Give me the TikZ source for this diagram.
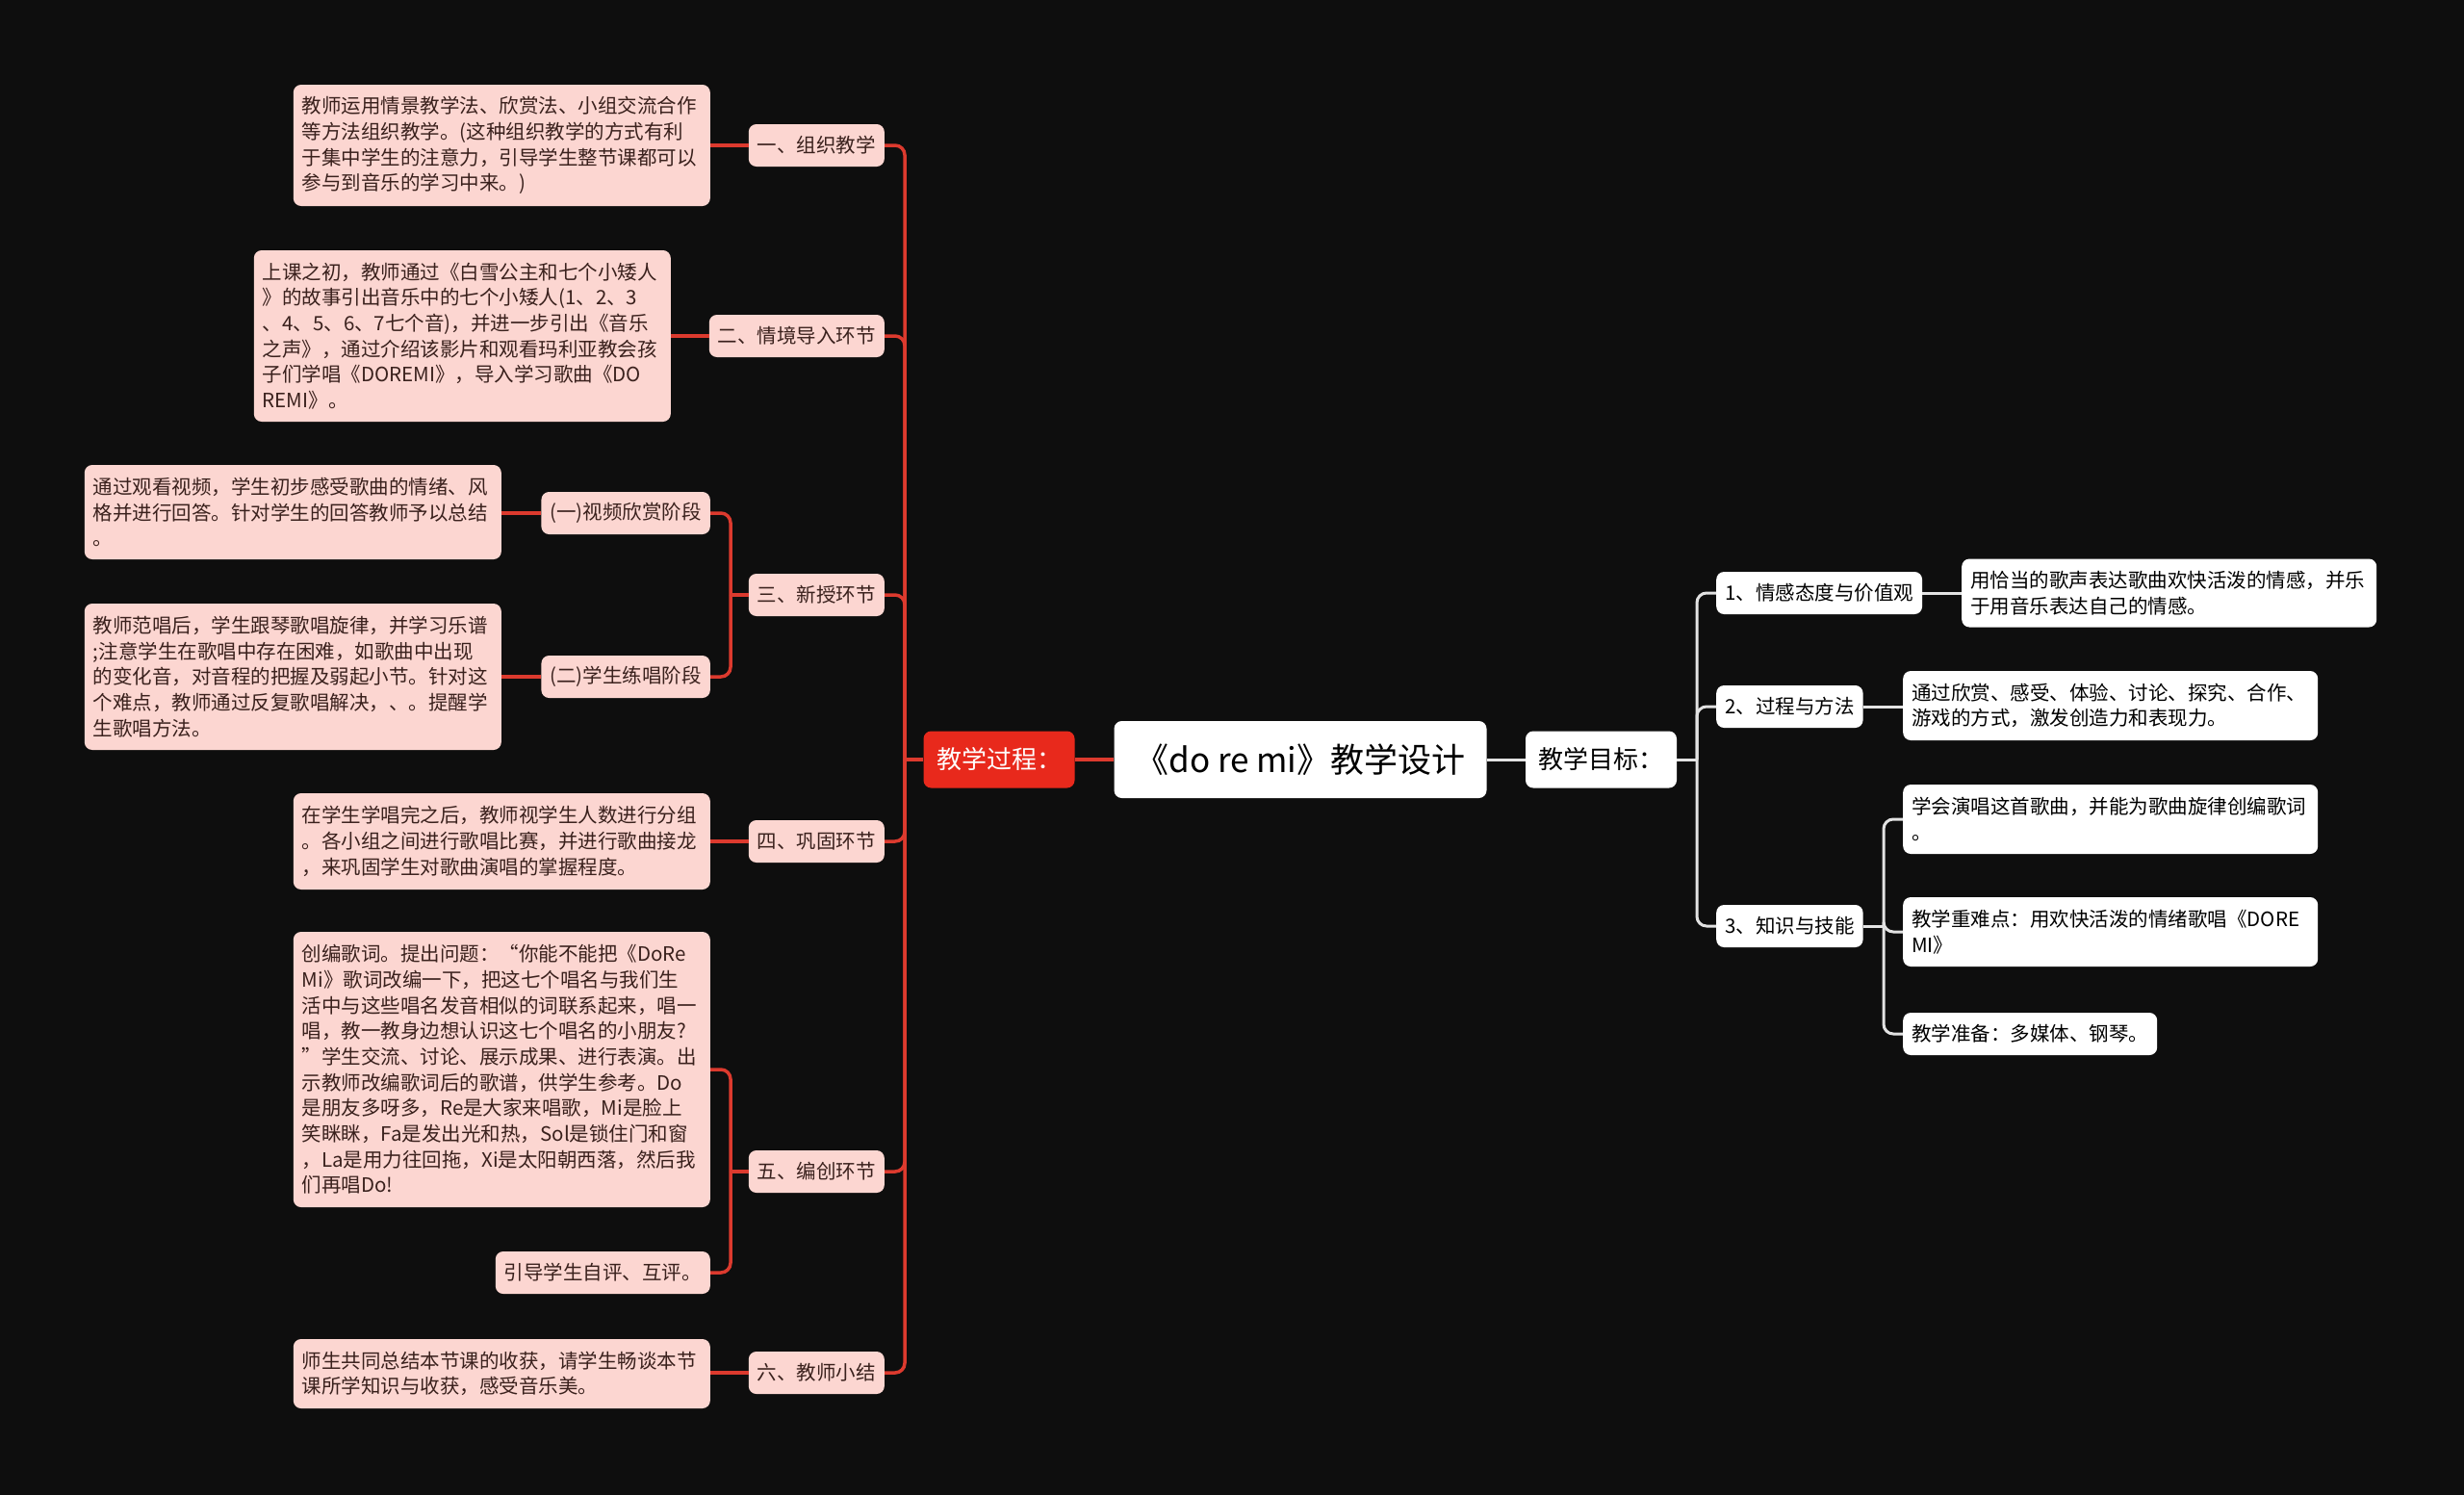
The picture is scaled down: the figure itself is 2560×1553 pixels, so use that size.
\documentclass[tikz,border=0pt]{standalone}
\usepackage{fontspec}
\setmainfont{Noto Sans CJK SC}
\definecolor{bgc}{HTML}{0E0E0E}
\definecolor{pinkc}{HTML}{FCD6D1}
\definecolor{ptxt}{HTML}{3A211D}
\definecolor{redl}{HTML}{DC3A2E}
\definecolor{redn}{HTML}{E8291C}
\definecolor{whl}{HTML}{E2E2E2}
\newcommand{\fsn}{\fontsize{20.5pt}{26.67pt}\selectfont}
\tikzset{
  pnode/.style={fill=pinkc, text=ptxt, rounded corners=8pt, inner xsep=9pt, inner ysep=0pt, minimum height=44pt, font=\fsn},
  pleaf/.style={fill=pinkc, text=ptxt, rounded corners=8pt, inner xsep=9pt, inner ysep=3pt, align=left, text width=415pt, font=\fsn},
  wnode/.style={fill=white, text=black, rounded corners=8pt, inner xsep=9pt, inner ysep=0pt, minimum height=44pt, font=\fsn},
  wleaf/.style={fill=white, text=black, rounded corners=8pt, inner xsep=9pt, inner ysep=3pt, align=left, text width=413pt, font=\fsn},
  redline/.style={draw=redl, line width=3.5pt},
  whline/.style={draw=whl, line width=3pt},
}
\begin{document}
\begin{tikzpicture}[x=1pt,y=-1pt]
\fill[bgc] (0,0) rectangle (2560,1553);
\useasboundingbox (0,0) rectangle (2560,1553);

% central
\node[fill=white, text=black, rounded corners=8pt, minimum width=387pt, minimum height=80pt, inner sep=0pt, font=\fontsize{35pt}{40pt}\selectfont] (title) at (1351,789) {《do re mi》教学设计};
\node[fill=redn, text=white, rounded corners=8pt, minimum width=157pt, minimum height=59pt, inner sep=0pt, font=\fontsize{26pt}{30pt}\selectfont] (proc) at (1038,789) {教学过程：};
\node[fill=white, text=black, rounded corners=8pt, minimum width=157pt, minimum height=59pt, inner sep=0pt, font=\fontsize{26pt}{30pt}\selectfont] (goal) at (1663.5,789) {教学目标：};

% left mid nodes
\node[pnode, anchor=east] (n1) at (919,151) {一、组织教学};
\node[pnode, anchor=east] (n2) at (919,349) {二、情境导入环节};
\node[pnode, anchor=east] (n3) at (919,618) {三、新授环节};
\node[pnode, anchor=east] (n4) at (919,874) {四、巩固环节};
\node[pnode, anchor=east] (n5) at (919,1217) {五、编创环节};
\node[pnode, anchor=east] (n6) at (919,1426) {六、教师小结};

\node[pnode, anchor=east] (s1) at (738,533) {(一)视频欣赏阶段};
\node[pnode, anchor=east] (s2) at (738,703) {(二)学生练唱阶段};

% left leaves
\node[pleaf, anchor=east, minimum height=126pt] (l1) at (738,151) {教师运用情景教学法、欣赏法、小组交流合作\\等方法组织教学。(这种组织教学的方式有利\\于集中学生的注意力，引导学生整节课都可以\\参与到音乐的学习中来。)};
\node[pleaf, anchor=east, minimum height=178pt] (l2) at (697,349) {上课之初，教师通过《白雪公主和七个小矮人\\》的故事引出音乐中的七个小矮人(1、2、3\\、4、5、6、7七个音)，并进一步引出《音乐\\之声》，通过介绍该影片和观看玛利亚教会孩\\子们学唱《DOREMI》，导入学习歌曲《DO\\REMI》。};
\node[pleaf, anchor=east, minimum height=98pt] (l3a) at (521,532) {通过观看视频，学生初步感受歌曲的情绪、风\\格并进行回答。针对学生的回答教师予以总结\\。};
\node[pleaf, anchor=east, minimum height=152pt] (l3b) at (521,703) {教师范唱后，学生跟琴歌唱旋律，并学习乐谱\\;注意学生在歌唱中存在困难，如歌曲中出现\\的变化音，对音程的把握及弱起小节。针对这\\个难点，教师通过反复歌唱解决，、。提醒学\\生歌唱方法。};
\node[pleaf, anchor=east, minimum height=100pt] (l4) at (738,874) {在学生学唱完之后，教师视学生人数进行分组\\。各小组之间进行歌唱比赛，并进行歌曲接龙\\，来巩固学生对歌曲演唱的掌握程度。};
\node[pleaf, anchor=east, minimum height=286pt] (l5a) at (738,1111) {创编歌词。提出问题：“你能不能把《DoRe\\Mi》歌词改编一下，把这七个唱名与我们生\\活中与这些唱名发音相似的词联系起来，唱一\\唱，教一教身边想认识这七个唱名的小朋友?\\”学生交流、讨论、展示成果、进行表演。出\\示教师改编歌词后的歌谱，供学生参考。Do\\是朋友多呀多，Re是大家来唱歌，Mi是脸上\\笑眯眯，Fa是发出光和热，Sol是锁住门和窗\\，La是用力往回拖，Xi是太阳朝西落，然后我\\们再唱Do!};
\node[pnode, anchor=east] (l5b) at (738,1322) {引导学生自评、互评。};
\node[pleaf, anchor=east, minimum height=72pt] (l6) at (738,1427) {师生共同总结本节课的收获，请学生畅谈本节\\课所学知识与收获，感受音乐美。};

% right
\node[wnode, anchor=west] (g1) at (1783,616) {1、情感态度与价值观};
\node[wnode, anchor=west] (g2) at (1783,734) {2、过程与方法};
\node[wnode, anchor=west] (g3) at (1783,962) {3、知识与技能};
\node[wleaf, anchor=west, minimum height=71pt] (r1) at (2038,616) {用恰当的歌声表达歌曲欢快活泼的情感，并乐\\于用音乐表达自己的情感。};
\node[wleaf, anchor=west, minimum height=72pt] (r2) at (1977,733) {通过欣赏、感受、体验、讨论、探究、合作、\\游戏的方式，激发创造力和表现力。};
\node[wleaf, anchor=west, minimum height=72pt] (r3a) at (1977,851) {学会演唱这首歌曲，并能为歌曲旋律创编歌词\\。};
\node[wleaf, anchor=west, minimum height=72pt] (r3b) at (1977,968) {教学重难点：用欢快活泼的情绪歌唱《DORE\\MI》};
\node[wnode, anchor=west] (r3c) at (1977,1074) {教学准备：多媒体、钢琴。};

% connectors left
\coordinate (jL) at (940,789);
\draw[redline] (title.west) -- (proc.east);
\draw[redline] (proc.west) -- (jL);
\foreach \n in {n1,n2,n3,n4,n5,n6} \draw[redline, rounded corners=10pt] (jL) |- (\n.east);
\draw[redline] (n1.west) -- (l1.east);
\draw[redline] (n2.west) -- (l2.east);
\coordinate (j3) at (759,618);
\draw[redline] (n3.west) -- (j3);
\draw[redline, rounded corners=10pt] (j3) |- (s1.east);
\draw[redline, rounded corners=10pt] (j3) |- (s2.east);
\draw[redline] (s1.west) -- (l3a.east |- s1.west);
\draw[redline] (s2.west) -- (l3b.east);
\draw[redline] (n4.west) -- (l4.east);
\coordinate (j5) at (759,1217);
\draw[redline] (n5.west) -- (j5);
\draw[redline, rounded corners=10pt] (j5) |- (l5a.east);
\draw[redline, rounded corners=10pt] (j5) |- (l5b.east);
\draw[redline] (n6.west) -- (l6.east |- n6.west);

% connectors right
\coordinate (jR) at (1763,789);
\draw[whline] (title.east) -- (goal.west);
\draw[whline] (goal.east) -- (jR);
\foreach \n in {g1,g2,g3} \draw[whline, rounded corners=10pt] (jR) |- (\n.west);
\draw[whline] (g1.east) -- (r1.west);
\draw[whline] (g2.east) -- (r2.west |- g2.east);
\coordinate (jR3) at (1957,962);
\draw[whline] (g3.east) -- (jR3);
\foreach \n in {r3a,r3b,r3c} \draw[whline, rounded corners=10pt] (jR3) |- (\n.west);
\end{tikzpicture}
\end{document}
